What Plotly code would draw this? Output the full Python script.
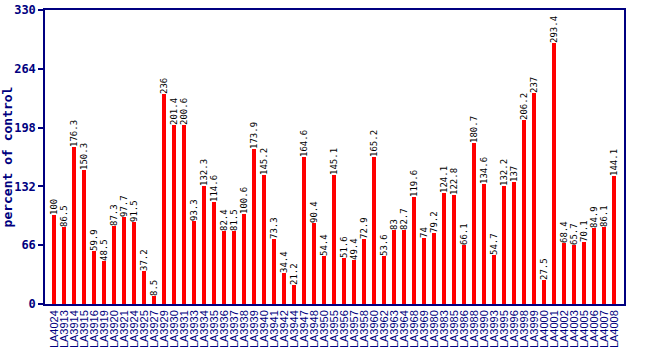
import plotly.graph_objects as go

lines = [
    "LA4024", "LA3913", "LA3914", "LA3915", "LA3916", "LA3919", "LA3920", "LA3921",
    "LA3924", "LA3925", "LA3927", "LA3929", "LA3930", "LA3931", "LA3933", "LA3934",
    "LA3935", "LA3936", "LA3937", "LA3938", "LA3939", "LA3940", "LA3941", "LA3942",
    "LA3944", "LA3947", "LA3948", "LA3950", "LA3955", "LA3956", "LA3957", "LA3958",
    "LA3960", "LA3962", "LA3963", "LA3964", "LA3968", "LA3969", "LA3980", "LA3983",
    "LA3985", "LA3986", "LA3988", "LA3990", "LA3993", "LA3995", "LA3996", "LA3998",
    "LA3999", "LA4000", "LA4001", "LA4002", "LA4003", "LA4005", "LA4006", "LA4007",
    "LA4008",
]
percent = [
    100, 86.5, 176.3, 150.3, 59.9, 48.5, 87.3, 97.7, 91.5, 37.2,
    8.5, 236, 201.4, 200.6, 93.3, 132.3, 114.6, 82.4, 81.5, 100.6,
    173.9, 145.2, 73.3, 34.4, 21.2, 164.6, 90.4, 54.4, 145.1, 51.6,
    49.4, 72.9, 165.2, 53.6, 83, 82.7, 119.6, 74, 79.2, 124.1,
    122.8, 66.1, 180.7, 134.6, 54.7, 132.2, 137, 206.2, 237, 27.5,
    293.4, 68.4, 65.7, 70.1, 84.9, 86.1, 144.1,
]
y_ticks = [0, 66, 132, 198, 264, 330]

NAVY = "#000080"
idx = list(range(len(lines)))

fig = go.Figure(
    go.Bar(
        x=idx,
        y=percent,
        width=0.4,
        marker=dict(color="#ff0000", line=dict(width=0)),
        text=[f"{v:g}" for v in percent],
        textposition="outside",
        textangle=-90,
        constraintext="none",
        textfont=dict(family="DejaVu Sans Mono", size=9, color="#000000"),
        cliponaxis=True,
    )
)

fig.update_layout(
    width=650,
    height=350,
    margin=dict(l=45, r=26, t=10, b=46, autoexpand=False),
    paper_bgcolor="#ffffff",
    plot_bgcolor="#ffffff",
    showlegend=False,
    bargap=0,
)

fig.update_xaxes(
    automargin=False,
    range=[-0.9, 57.0],
    tickmode="array",
    tickvals=idx,
    ticktext=lines,
    tickangle=-90,
    ticks="",
    tickfont=dict(family="Liberation Sans", size=11, color=NAVY),
    showgrid=False,
    zeroline=False,
    showline=True,
    linecolor=NAVY,
    linewidth=1.5,
    mirror=True,
)

fig.update_yaxes(
    automargin=False,
    range=[0, 330],
    tickmode="array",
    tickvals=y_ticks,
    ticks="outside",
    ticklen=5,
    tickcolor=NAVY,
    tickwidth=1.5,
    tickfont=dict(family="DejaVu Sans Mono", size=12, color=NAVY, weight="bold"),
    showgrid=False,
    zeroline=False,
    showline=True,
    linecolor=NAVY,
    linewidth=1.5,
    mirror=True,
    title=dict(
        text="percent of control",
        font=dict(family="DejaVu Sans Mono", size=13, color=NAVY, weight="bold"),
        standoff=6,
    ),
)

fig.write_html("out.html")
